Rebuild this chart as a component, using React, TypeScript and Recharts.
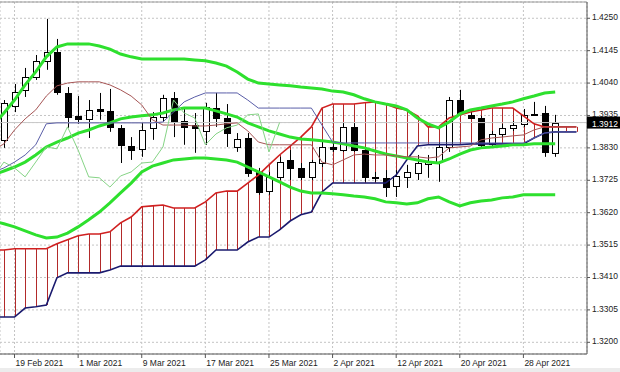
import React from "react";
import { Bar, CartesianGrid, ComposedChart, Line, ReferenceLine, XAxis, YAxis } from "recharts";

// bar index of the first entry in every array (0 = 19 Feb 2021)
const firstIndex = -2;

const tickIndexes = [0, 6, 12, 18, 24, 30, 36, 42, 48];
const tickLabels = [
  "19 Feb 2021",
  "1 Mar 2021",
  "9 Mar 2021",
  "17 Mar 2021",
  "25 Mar 2021",
  "2 Apr 2021",
  "12 Apr 2021",
  "20 Apr 2021",
  "28 Apr 2021",
];
const priceTicks = [1.32, 1.3305, 1.341, 1.3515, 1.362, 1.3725, 1.383, 1.3935, 1.404, 1.4145, 1.425];
const lastPrice = 1.3912;

// candles, i = -2 .. 51
const opens = [
  1.383, 1.3856, 1.3966, 1.4018, 1.406, 1.4112, 1.4141, 1.4008, 1.3934, 1.3924, 1.3956, 1.395, 1.3895, 1.3836,
  1.3827, 1.3895, 1.393, 1.3992, 1.3917, 1.3904, 1.3885, 1.3959, 1.3927, 1.3833, 1.3862, 1.3752, 1.369, 1.3736,
  1.3791, 1.3765, 1.3736, 1.3781, 1.3833, 1.3823, 1.3898, 1.3823, 1.3736, 1.3733, 1.3707, 1.3736, 1.3749, 1.3778,
  1.3784, 1.3833, 1.3985, 1.3937, 1.3927, 1.3843, 1.3875, 1.3895, 1.3908, 1.3937, 1.3943, 1.3814,
];
const highs = [
  1.3862, 1.3985, 1.4037, 1.4089, 1.4131, 1.4248, 1.4183, 1.4027, 1.3998, 1.3985, 1.4008, 1.4021, 1.3904, 1.3865,
  1.3914, 1.3946, 1.4002, 1.4011, 1.3959, 1.3943, 1.3976, 1.4008, 1.3972, 1.3878, 1.3878, 1.3765, 1.3752, 1.3801,
  1.3823, 1.3781, 1.3791, 1.3856, 1.3849, 1.3911, 1.3911, 1.3833, 1.3752, 1.3758, 1.3758, 1.3775, 1.3807, 1.3807,
  1.3849, 1.3995, 1.4018, 1.3953, 1.3934, 1.3885, 1.3908, 1.3917, 1.3956, 1.3979, 1.3966, 1.3937,
];
const lows = [
  1.3817, 1.383, 1.3946, 1.3995, 1.405, 1.4083, 1.4002, 1.3895, 1.3908, 1.3862, 1.3921, 1.3882, 1.3781, 1.3791,
  1.3801, 1.3856, 1.3911, 1.3865, 1.384, 1.3814, 1.384, 1.3898, 1.3833, 1.3817, 1.3736, 1.3678, 1.3678, 1.3726,
  1.3726, 1.3726, 1.3726, 1.3768, 1.3817, 1.3817, 1.3817, 1.372, 1.372, 1.3671, 1.3671, 1.37, 1.3726, 1.3733,
  1.372, 1.3817, 1.3937, 1.3924, 1.383, 1.383, 1.3865, 1.3885, 1.3898, 1.3934, 1.3801, 1.3801,
];
const closes = [
  1.3856, 1.3976, 1.4011, 1.406, 1.4112, 1.4141, 1.4011, 1.393, 1.3924, 1.3953, 1.395, 1.3898, 1.384, 1.3823,
  1.3888, 1.393, 1.3992, 1.3914, 1.3898, 1.3895, 1.3963, 1.3927, 1.3878, 1.3859, 1.3749, 1.3687, 1.3736, 1.3784,
  1.3765, 1.3736, 1.3784, 1.3833, 1.3827, 1.3898, 1.3823, 1.3736, 1.3733, 1.3703, 1.3739, 1.3752, 1.3781, 1.3784,
  1.3833, 1.3985, 1.3943, 1.3927, 1.384, 1.3875, 1.3895, 1.3904, 1.3937, 1.394, 1.3817, 1.3912,
];

// Bollinger bands, i = -2 .. 51
const bbUpper = [
  1.3904, 1.3943, 1.3985, 1.4034, 1.4076, 1.4125, 1.4157, 1.4167, 1.4167, 1.4167, 1.416, 1.415, 1.4134, 1.4125,
  1.4118, 1.4118, 1.4118, 1.4118, 1.4118, 1.4115, 1.4112, 1.4105, 1.4095, 1.4076, 1.4053, 1.404, 1.4037, 1.4034,
  1.4031, 1.4027, 1.4024, 1.4021, 1.4014, 1.4011, 1.4002, 1.3989, 1.3979, 1.3972, 1.3966, 1.3953, 1.3927, 1.3908,
  1.3895, 1.3914, 1.394, 1.3953, 1.3959, 1.3966, 1.3972, 1.3979, 1.3989, 1.3998, 1.4008, 1.4011,
];
const bbMiddle = [
  1.3742, 1.3755, 1.3768, 1.3784, 1.3807, 1.3833, 1.3849, 1.3862, 1.3878, 1.3888, 1.3901, 1.3911, 1.3924, 1.393,
  1.3934, 1.3937, 1.3943, 1.3953, 1.3959, 1.3959, 1.3959, 1.395, 1.394, 1.393, 1.3911, 1.3898, 1.3885, 1.3875,
  1.3865, 1.3859, 1.3856, 1.3853, 1.3849, 1.3843, 1.3836, 1.383, 1.382, 1.381, 1.3804, 1.3797, 1.3791, 1.3784,
  1.3781, 1.3794, 1.381, 1.3823, 1.383, 1.3833, 1.3836, 1.384, 1.384, 1.3843, 1.3843, 1.3843,
];
const bbLower = [
  1.3593, 1.3584, 1.3574, 1.3561, 1.3548, 1.3538, 1.3541, 1.3554, 1.3574, 1.3597, 1.3622, 1.3652, 1.3684, 1.3716,
  1.3752, 1.3771, 1.3781, 1.3791, 1.3794, 1.3797, 1.3797, 1.3794, 1.3791, 1.3784, 1.3768, 1.3752, 1.3736, 1.372,
  1.3703, 1.369, 1.3684, 1.3684, 1.3681, 1.3678, 1.3674, 1.3671, 1.3665, 1.3655, 1.3652, 1.3648, 1.3652, 1.3665,
  1.3671, 1.3655, 1.3642, 1.3652, 1.3658, 1.3661, 1.3668, 1.3671, 1.3678, 1.3678, 1.3678, 1.3678,
];

// Ichimoku, i = -2 .. 53
const tenkan = [
  1.3823, 1.3843, 1.3888, 1.3924, 1.3953, 1.3998, 1.4031, 1.404, 1.4044, 1.4044, 1.4044, 1.4034, 1.4018, 1.3998,
  1.3969, 1.3921, 1.3904, 1.3904, 1.3904, 1.3901, 1.3901, 1.3904, 1.3908, 1.3911, 1.3885, 1.3849, 1.384, 1.384,
  1.384, 1.384, 1.384, 1.3784, 1.3775, 1.3791, 1.3807, 1.381, 1.3807, 1.3807, 1.3804, 1.3801, 1.3801, 1.3797,
  1.3801, 1.383, 1.3833, 1.3836, 1.3856, 1.3862, 1.3865, 1.3869, 1.3872, 1.3888, 1.3898, 1.3898, 1.3898, 1.3898,
];
const kijun = [
  1.3752, 1.3765, 1.3784, 1.3807, 1.384, 1.3908, 1.3911, 1.3911, 1.3911, 1.3911, 1.3911, 1.3911, 1.3911, 1.3911,
  1.3911, 1.3911, 1.3914, 1.3946, 1.3979, 1.3995, 1.4008, 1.4008, 1.4008, 1.4008, 1.3985, 1.3959, 1.3959, 1.3959,
  1.3959, 1.3959, 1.3959, 1.3904, 1.3849, 1.3846, 1.3846, 1.3846, 1.3846, 1.3846, 1.3846, 1.3846, 1.3846, 1.3846,
  1.3846, 1.3846, 1.3846, 1.3846, 1.3846, 1.3846, 1.3846, 1.3846, 1.3846, 1.3862, 1.3878, 1.3882, 1.3882, 1.3882,
];
const spanTop = [
  1.3499, 1.3499, 1.3503, 1.3503, 1.3503, 1.3503, 1.3519, 1.3532, 1.3545, 1.3551, 1.3551, 1.3558, 1.3587, 1.3606,
  1.3639, 1.3642, 1.3645, 1.3635, 1.3635, 1.3635, 1.3655, 1.3684, 1.369, 1.369, 1.3716, 1.3742, 1.3775, 1.3807,
  1.3836, 1.3865, 1.3898, 1.3959, 1.3972, 1.3972, 1.3972, 1.3976, 1.3979, 1.3972, 1.3959, 1.3953, 1.3934, 1.3898,
  1.3898, 1.3927, 1.3937, 1.3946, 1.3953, 1.3959, 1.3959, 1.3959, 1.3934, 1.3908, 1.3898, 1.3898, 1.3898, 1.3898,
];
const spanBottom = [
  1.3282, 1.3282, 1.3282, 1.3311, 1.3315, 1.3321, 1.3409, 1.3425, 1.3425, 1.3425, 1.3425, 1.3434, 1.3447, 1.3447,
  1.3447, 1.3447, 1.3447, 1.3447, 1.3447, 1.3447, 1.3467, 1.3499, 1.3499, 1.3499, 1.3525, 1.3541, 1.3541, 1.3564,
  1.3593, 1.3613, 1.3622, 1.3687, 1.3716, 1.3716, 1.3716, 1.3716, 1.3716, 1.3716, 1.3742, 1.3791, 1.3836, 1.384,
  1.384, 1.384, 1.384, 1.3843, 1.3843, 1.3843, 1.3843, 1.3843, 1.3843, 1.3862, 1.3878, 1.3882, 1.3882, 1.3882,
];
// lagging span, i = -2 .. 25
const chikou = [
  1.3736, 1.3784, 1.3765, 1.3736, 1.3784, 1.3833, 1.3827, 1.3898, 1.3823, 1.3736, 1.3733, 1.3703, 1.3739, 1.3752,
  1.3781, 1.3784, 1.3833, 1.3985, 1.3943, 1.3927, 1.384, 1.3875, 1.3895, 1.3904, 1.3937, 1.394, 1.3817, 1.3912,
];

const yMin = 1.31621;
const yMax = 1.43027;
const font = "'Liberation Sans', Arial, sans-serif";

const data = tenkan.map((_, k) => ({
  i: firstIndex + k,
  open: opens[k] ?? null,
  high: highs[k] ?? null,
  low: lows[k] ?? null,
  close: closes[k] ?? null,
  upper: bbUpper[k] ?? null,
  middle: bbMiddle[k] ?? null,
  lower: bbLower[k] ?? null,
  tenkan: tenkan[k],
  kijun: kijun[k],
  spanTop: spanTop[k],
  spanBottom: spanBottom[k],
  chikou: chikou[k] ?? null,
}));

const Candle = (props: any) => {
  const { x, y, width, height, payload } = props;
  if (!payload || payload.open == null || !Number.isFinite(y) || !Number.isFinite(height)) return null;
  const top = Math.min(y, y + height);
  const bottom = Math.max(y, y + height);
  const span = payload.high - payload.low || 1e-9;
  const toY = (v: number) => top + ((payload.high - v) / span) * (bottom - top);
  const oy = toY(payload.open);
  const cy = toY(payload.close);
  const up = payload.close >= payload.open;
  const cx = Math.round(x + width / 2) + 0.5;
  const bodyTop = Math.round(Math.min(oy, cy)) + 0.5;
  const bodyH = Math.max(Math.round(Math.abs(cy - oy)), 1);
  return (
    <g>
      <line x1={cx} x2={cx} y1={top} y2={bottom} stroke="#000" strokeWidth={1} />
      <rect x={cx - 3} y={bodyTop} width={6} height={bodyH} fill={up ? "#fff" : "#000"} stroke="#000" strokeWidth={1} />
    </g>
  );
};

const Hatch = (props: any) => {
  const { x, y, width, height } = props;
  if (!Number.isFinite(y) || !Number.isFinite(height)) return null;
  const cx = Math.round(x + width / 2) + 0.5;
  return <line x1={cx} x2={cx} y1={y} y2={y + height} stroke="#b22a2a" strokeWidth={1} />;
};

const DateTick = ({ x, y, payload }: any) => {
  const idx = tickIndexes.indexOf(payload.value);
  return (
    <text x={x + 1} y={y + 6} fontSize={8.5} fontFamily={font} fill="#222" textAnchor="start">
      {idx >= 0 ? tickLabels[idx] : ""}
    </text>
  );
};

const PriceTick = ({ x, y, payload }: any) => {
  const v = payload.value as number;
  if (v === lastPrice) {
    return (
      <g>
        <rect x={x - 5} y={y - 6} width={33} height={12} fill="#000" />
        <text x={x} y={y + 4.5} fontSize={8.5} fontFamily={font} fill="#fff" textAnchor="start">
          {v.toFixed(4)}
        </text>
      </g>
    );
  }
  return (
    <text x={x} y={y + 2} fontSize={8.5} fontFamily={font} fill="#222" textAnchor="start">
      {v.toFixed(4)}
    </text>
  );
};

export default function App() {
  return (
    <div style={{ position: "absolute", left: 0, top: 0, width: 620, height: 372, background: "#fff" }}>
      <ComposedChart width={620} height={372} data={data} margin={{ top: 2, right: 0, bottom: 0, left: 0 }}>
        <CartesianGrid stroke="#c4c4c4" strokeDasharray="2 2" />
        <XAxis
          dataKey="i"
          type="number"
          domain={[-1.37, 54]}
          allowDataOverflow
          ticks={tickIndexes}
          tick={<DateTick />}
          tickSize={4}
          tickMargin={2}
          height={18}
          interval={0}
          stroke="#555"
        />
        <XAxis xAxisId="hatch" dataKey="i" type="number" domain={[-1.37, 54]} allowDataOverflow hide />
        <YAxis
          orientation="right"
          type="number"
          domain={[yMin, yMax]}
          allowDataOverflow
          ticks={[...priceTicks, lastPrice]}
          tick={<PriceTick />}
          tickSize={3}
          tickMargin={2}
          width={33}
          interval={0}
          stroke="#555"
        />
        <ReferenceLine y={yMax} stroke="#9a9a9a" />
        <ReferenceLine y={lastPrice} stroke="#c8c8c8" />
        <Bar
          xAxisId="hatch"
          dataKey={(d: any) => [d.spanBottom, d.spanTop]}
          barSize={1}
          shape={<Hatch />}
          isAnimationActive={false}
        />
        <Bar
          dataKey={(d: any) => (d.high == null ? null : [d.low, d.high])}
          barSize={7}
          shape={<Candle />}
          isAnimationActive={false}
        />
        <Line dataKey="spanTop" stroke="#d02020" strokeWidth={1.6} dot={false} isAnimationActive={false} />
        <Line dataKey="spanBottom" stroke="#1a1a6e" strokeWidth={1.6} dot={false} isAnimationActive={false} />
        <Line dataKey="upper" stroke="#2ee02e" strokeWidth={3} dot={false} isAnimationActive={false} />
        <Line dataKey="middle" stroke="#2ee02e" strokeWidth={3} dot={false} isAnimationActive={false} />
        <Line dataKey="lower" stroke="#2ee02e" strokeWidth={3} dot={false} isAnimationActive={false} />
        <Line dataKey="tenkan" stroke="#a65555" strokeWidth={1} dot={false} isAnimationActive={false} />
        <Line dataKey="kijun" stroke="#5a5ea8" strokeWidth={1} dot={false} isAnimationActive={false} />
        <Line dataKey="chikou" stroke="#86d486" strokeWidth={1} dot={false} isAnimationActive={false} />
      </ComposedChart>
      <div style={{ position: "absolute", left: 0, bottom: 0, width: 620, height: 4, background: "#ececec" }} />
    </div>
  );
}
